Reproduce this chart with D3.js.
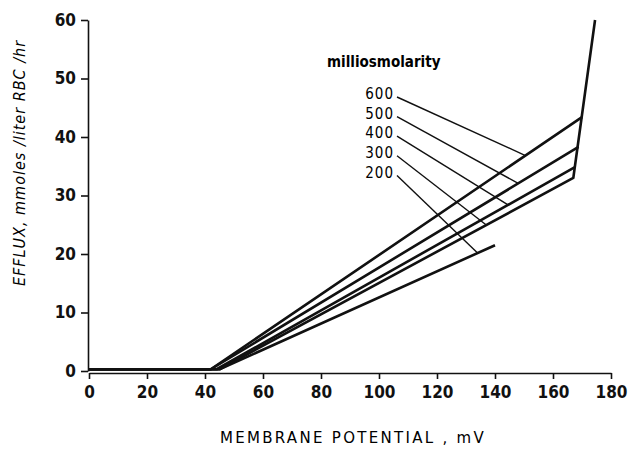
<!DOCTYPE html>
<html>
<head>
<meta charset="utf-8">
<script src="https://cdn.jsdelivr.net/npm/d3@7"></script>
<style>
  body { margin: 0; background: #fff; }
  svg { display: block; }
  .axis path, .axis line { stroke: #111; stroke-width: 1.6; }
  .axis text { font-family: "DejaVu Sans Condensed", "DejaVu Sans", sans-serif; font-weight: bold; font-size: 17px; fill: #111; }
</style>
</head>
<body>
<div id="container"></div>
<script>
var width = 630, height = 450,
    margin = {top: 20, right: 19, bottom: 79, left: 89};

// efflux curves, one per milliosmolarity
var labels = ['600', '500', '400', '300', '200'];
var xs600 = [0, 42, 170], ys600 = [0.3, 0.3, 43.4];
var xs500 = [0, 42, 168.8], ys500 = [0.3, 0.3, 38.3];
var xs400 = [0, 44, 167.4], ys400 = [0.3, 0.3, 34.8];
var xs300 = [0, 45, 167, 174.5], ys300 = [0.3, 0.3, 33, 60];
var xs200 = [0, 45, 140], ys200 = [0.3, 0.3, 21.5];
var leaderX = [150.5, 148, 144.5, 137, 134]; // where each leader meets its line
var xTicks = [0, 20, 40, 60, 80, 100, 120, 140, 160, 180];
var yTicks = [0, 10, 20, 30, 40, 50, 60];

var series = [
  {xs: xs600, ys: ys600}, {xs: xs500, ys: ys500}, {xs: xs400, ys: ys400},
  {xs: xs300, ys: ys300}, {xs: xs200, ys: ys200}
];

var svg = d3.select('#container').append('svg')
    .attr('width', width)
    .attr('height', height);

var x = d3.scaleLinear().domain([0, 180]).range([margin.left, width - margin.right]);
var y = d3.scaleLinear().domain([0, 60]).range([height - margin.bottom, margin.top]);

// axes
svg.append('g')
    .attr('class', 'axis')
    .attr('transform', 'translate(0,' + (y(0) + 2) + ')')
    .call(d3.axisBottom(x).tickValues(xTicks).tickSize(6).tickSizeOuter(0).tickPadding(6))
    .selectAll('text').attr('dy', '0.75em');

svg.append('g')
    .attr('class', 'axis')
    .attr('transform', 'translate(' + (x(0) - 1) + ',0)')
    .call(d3.axisLeft(y).tickValues(yTicks).tickSize(7).tickSizeOuter(0).tickPadding(5));

// curves
var line = d3.line().x(d => x(d[0])).y(d => y(d[1]));
svg.selectAll('path.curve')
  .data(series)
  .enter().append('path')
    .attr('class', 'curve')
    .attr('d', s => line(s.xs.map((v, i) => [v, s.ys[i]])))
    .attr('fill', 'none')
    .attr('stroke', '#111')
    .attr('stroke-width', 2.6)
    .attr('stroke-linejoin', 'round');

// value of a curve at a given x
function valueAt(s, v) {
  for (var i = 1; i < s.xs.length; i++) {
    if (v <= s.xs[i]) {
      var t = (v - s.xs[i - 1]) / (s.xs[i] - s.xs[i - 1]);
      return s.ys[i - 1] + t * (s.ys[i] - s.ys[i - 1]);
    }
  }
  return s.ys[s.ys.length - 1];
}

// legend labels with leader lines
var labX = 396, labY0 = 94, labStep = 19.6;
labels.forEach(function(lab, i) {
  var ly = labY0 + i * labStep;
  svg.append('text')
      .attr('x', labX - 2)
      .attr('y', ly)
      .attr('dy', '0.35em')
      .attr('text-anchor', 'end')
      .style('font-family', '"DejaVu Sans Condensed", "DejaVu Sans", sans-serif')
      .style('font-size', '15px')
      .style('letter-spacing', '1px')
      .text(lab);
  svg.append('line')
      .attr('x1', labX + 1)
      .attr('y1', ly + 3)
      .attr('x2', x(leaderX[i]))
      .attr('y2', y(valueAt(series[i], leaderX[i])))
      .attr('stroke', '#111')
      .attr('stroke-width', 1.4);
});

svg.append('text')
    .attr('x', 327)
    .attr('y', 67)
    .style('font-family', '"DejaVu Sans Condensed", "DejaVu Sans", sans-serif')
    .style('font-weight', 'bold')
    .style('font-size', '15px')
    .text('milliosmolarity');

// axis titles
svg.append('text')
    .attr('x', 353)
    .attr('y', 443)
    .attr('text-anchor', 'middle')
    .style('font-family', '"DejaVu Sans", sans-serif')
    .style('font-size', '15px')
    .style('letter-spacing', '2.3px')
    .text('MEMBRANE POTENTIAL , mV');

svg.append('text')
    .attr('transform', 'translate(25,163) rotate(-90)')
    .attr('text-anchor', 'middle')
    .style('font-family', '"DejaVu Sans Condensed", "DejaVu Sans", sans-serif')
    .style('font-style', 'italic')
    .style('font-size', '16px')
    .style('letter-spacing', '1px')
    .text('EFFLUX, mmoles /liter RBC /hr');
</script>
</body>
</html>
